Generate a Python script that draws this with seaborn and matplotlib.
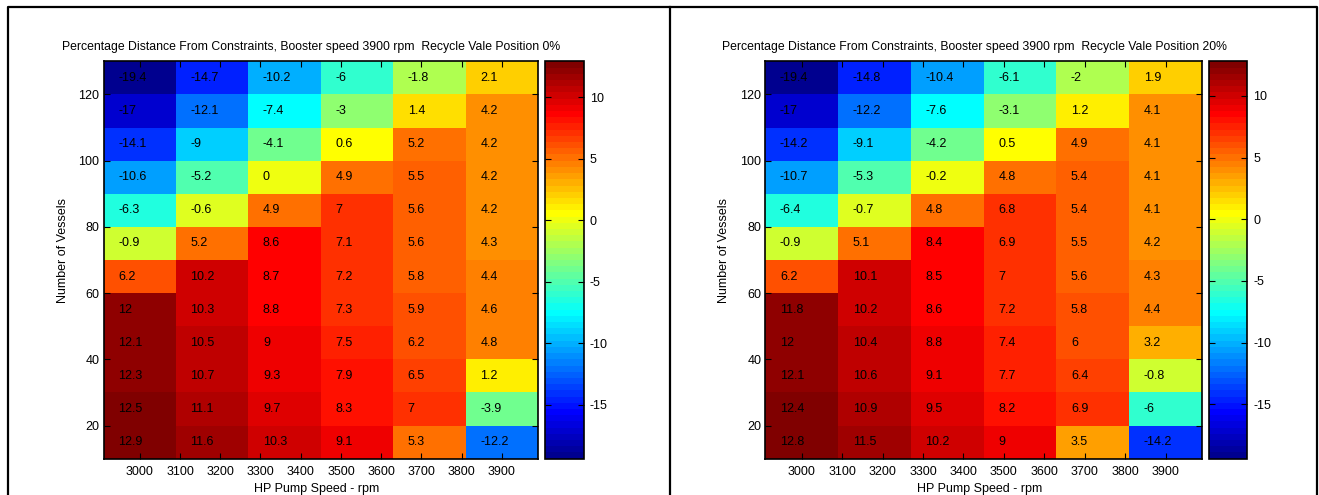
import numpy as np
import pandas as pd
import matplotlib
matplotlib.use("Agg")
import matplotlib.pyplot as plt
import seaborn as sns
from matplotlib.lines import Line2D
from matplotlib.colors import ListedColormap

# cell centres
speeds = [3000, 3180, 3360, 3540, 3720, 3900]
vessels = [125, 115, 105, 95, 85, 75, 65, 55, 45, 35, 25, 15]

# recycle valve 0 % (top row first)
dist_0 = [
    [-19.4, -14.7, -10.2, -6, -1.8, 2.1],
    [-17, -12.1, -7.4, -3, 1.4, 4.2],
    [-14.1, -9, -4.1, 0.6, 5.2, 4.2],
    [-10.6, -5.2, 0, 4.9, 5.5, 4.2],
    [-6.3, -0.6, 4.9, 7, 5.6, 4.2],
    [-0.9, 5.2, 8.6, 7.1, 5.6, 4.3],
    [6.2, 10.2, 8.7, 7.2, 5.8, 4.4],
    [12, 10.3, 8.8, 7.3, 5.9, 4.6],
    [12.1, 10.5, 9, 7.5, 6.2, 4.8],
    [12.3, 10.7, 9.3, 7.9, 6.5, 1.2],
    [12.5, 11.1, 9.7, 8.3, 7, -3.9],
    [12.9, 11.6, 10.3, 9.1, 5.3, -12.2],
]

# recycle valve 20 %
dist_20 = [
    [-19.4, -14.8, -10.4, -6.1, -2, 1.9],
    [-17, -12.2, -7.6, -3.1, 1.2, 4.1],
    [-14.2, -9.1, -4.2, 0.5, 4.9, 4.1],
    [-10.7, -5.3, -0.2, 4.8, 5.4, 4.1],
    [-6.4, -0.7, 4.8, 6.8, 5.4, 4.1],
    [-0.9, 5.1, 8.4, 6.9, 5.5, 4.2],
    [6.2, 10.1, 8.5, 7, 5.6, 4.3],
    [11.8, 10.2, 8.6, 7.2, 5.8, 4.4],
    [12, 10.4, 8.8, 7.4, 6, 3.2],
    [12.1, 10.6, 9.1, 7.7, 6.4, -0.8],
    [12.4, 10.9, 9.5, 8.2, 6.9, -6],
    [12.8, 11.5, 10.2, 9, 3.5, -14.2],
]

x_ticks = list(range(3000, 4000, 100))
y_ticks = [20, 40, 60, 80, 100, 120]
cbar_ticks = [-15, -10, -5, 0, 5, 10]

titles = [
    "Percentage Distance From Constraints, Booster speed 3900 rpm  Recycle Vale Position 0%",
    "Percentage Distance From Constraints, Booster speed 3900 rpm  Recycle Vale Position 20%",
]


def matlab_jet(m=64):
    # same construction as MATLAB's jet(m)
    n = int(np.ceil(m / 4))
    u = np.concatenate([np.arange(1, n + 1) / n, np.ones(n - 1), np.arange(n, 0, -1) / n])
    g = int(np.ceil(n / 2)) - (1 if m % 4 == 1 else 0) + np.arange(1, len(u) + 1)
    r = g + n
    b = g - n
    cols = np.zeros((m, 3))
    for ch, idx in ((0, r), (1, g), (2, b)):
        keep = (idx >= 1) & (idx <= m)
        cols[idx[keep] - 1, ch] = u[keep]
    return ListedColormap(cols)


plt.rcParams["font.family"] = ["Liberation Sans", "DejaVu Sans"]
plt.rcParams["axes.unicode_minus"] = False
plt.rcParams["font.size"] = 9

fig = plt.figure(figsize=(13.19, 4.95), dpi=100)
cmap = matlab_jet(64)

layout = [
    ([0.0785, 0.0735, 0.3295, 0.8025], [0.4135, 0.0735, 0.029, 0.8025]),
    ([0.5803, 0.0735, 0.3309, 0.8025], [0.9165, 0.0735, 0.0289, 0.8025]),
]

for values, title, (ax_rect, cb_rect) in zip([dist_0, dist_20], titles, layout):
    ax = fig.add_axes(ax_rect)
    cax = fig.add_axes(cb_rect)
    df = pd.DataFrame(values, index=vessels, columns=speeds)
    sns.heatmap(df, ax=ax, cbar_ax=cax, cmap=cmap,
                vmin=df.values.min(), vmax=df.values.max(),
                annot=True, fmt="g",
                annot_kws={"color": "black", "fontsize": 9, "ha": "left"},
                xticklabels=False, yticklabels=False)
    # labels sit to the left of each cell centre
    for t in ax.texts:
        x, y = t.get_position()
        t.set_x(x - 0.3)

    dx = speeds[1] - speeds[0]
    dy = vessels[0] - vessels[1]
    ax.set_xticks([(s - speeds[0]) / dx + 0.5 for s in x_ticks])
    ax.set_xticklabels([str(s) for s in x_ticks], rotation=0)
    ax.set_yticks([(vessels[0] - v) / dy + 0.5 for v in y_ticks])
    ax.set_yticklabels([str(v) for v in y_ticks], rotation=0)
    ax.tick_params(direction="in", length=4, width=0.8, top=True, right=True,
                   bottom=True, left=True, labelsize=9, colors="black")
    ax.tick_params(axis="x", pad=5)
    ax.tick_params(axis="y", pad=3)
    for s in ax.spines.values():
        s.set_visible(True)
        s.set_color("black")
        s.set_linewidth(1.2)

    ax.set_title(title, x=0.478, fontsize=8.85, pad=8.5)
    ax.set_xlabel("HP Pump Speed - rpm", fontsize=9)
    ax.set_ylabel("Number of Vessels", fontsize=9)
    ax.xaxis.set_label_coords(0.491, -0.062)
    ax.yaxis.set_label_coords(-0.08, 0.523)

    cbar = ax.collections[0].colorbar
    cbar.outline.set_linewidth(1.2)
    cbar.outline.set_edgecolor("black")
    cbar.set_ticks(cbar_ticks)
    cbar.set_ticklabels([str(v) for v in cbar_ticks])
    cax.tick_params(direction="in", length=4, width=0.8, left=True, right=True,
                    labelsize=9, pad=4.5, colors="black")

# frame round the two panels
frame = dict(transform=fig.transFigure, color="black", lw=1.6)
fig.add_artist(Line2D([0.0057, 0.0057, 0.9985, 0.9985], [0, 0.986, 0.986, 0], **frame))
fig.add_artist(Line2D([0.508, 0.508], [0, 0.986], **frame))

fig.savefig("out.png", dpi=100)
